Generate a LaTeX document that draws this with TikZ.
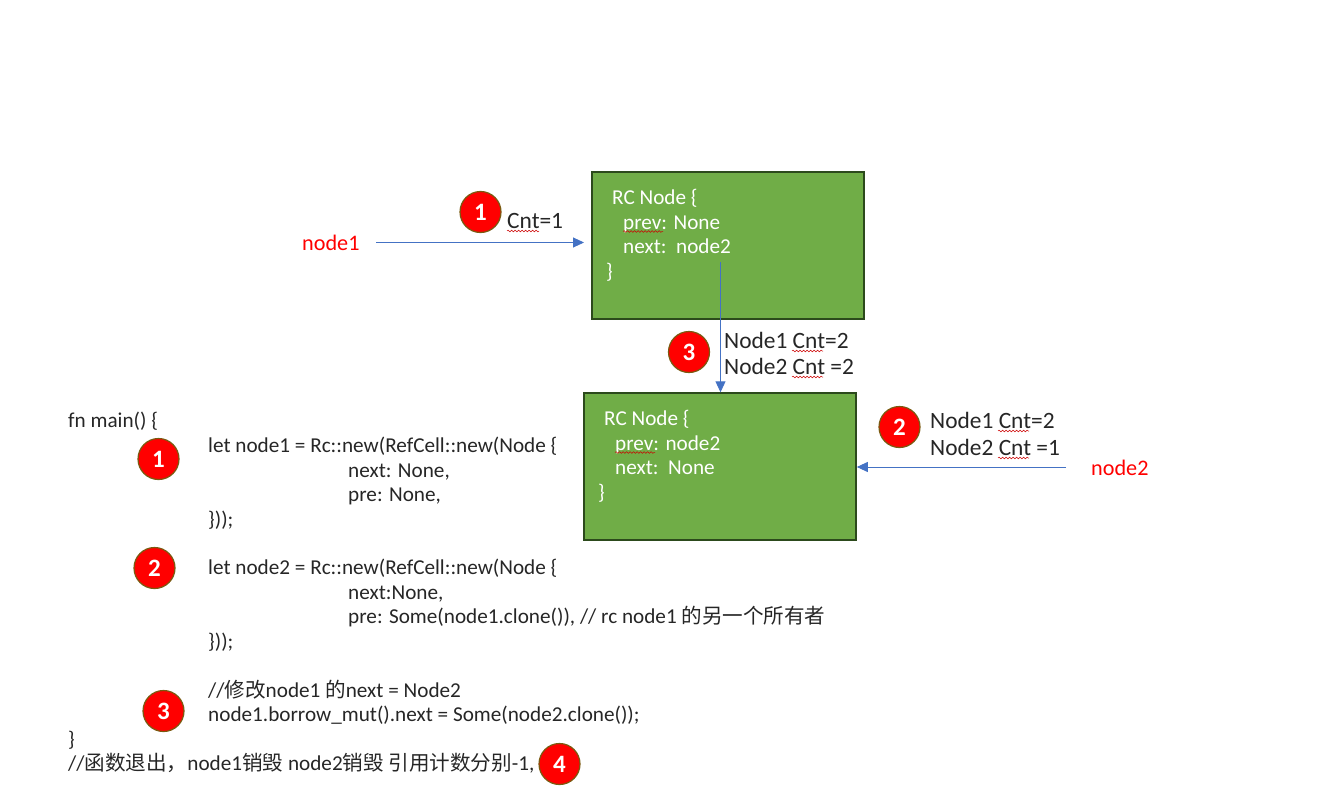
\documentclass[tikz,border=0pt]{standalone}
\usepackage{fontspec}
\setmainfont{Carlito}
\newfontfamily\cjk{Noto Sans CJK SC}[Scale=0.97]
\usetikzlibrary{arrows.meta,decorations.pathmorphing}
\definecolor{boxfill}{HTML}{70AD47}
\definecolor{boxline}{HTML}{2C4A1C}
\definecolor{arrowblue}{HTML}{4472C4}
\definecolor{badgeline}{HTML}{7A5A10}
\tikzset{
  x=1pt,y=-1pt,
  box/.style={draw=boxline,line width=1.5pt,fill=boxfill,inner sep=0pt,anchor=north west},
  boxtext/.style={text=white,anchor=base west,inner sep=0pt,font=\fontsize{21.2}{24}\selectfont},
  label/.style={text=black!85,anchor=base west,inner sep=0pt,font=\fontsize{23.4}{26}\selectfont},
  code/.style={text=black!85,anchor=base west,inner sep=0pt,font=\fontsize{21.2}{24}\selectfont},
  redname/.style={text=red,anchor=base west,inner sep=0pt,font=\fontsize{22.2}{25}\selectfont},
  badge/.style={circle,draw=badgeline,line width=1.2pt,fill=red,minimum size=41pt,inner sep=0pt,text=white,font=\fontsize{25}{28}\bfseries\selectfont},
  conn/.style={draw=arrowblue,line width=0.9pt,-{Triangle[length=11pt,width=10pt]}},
  squig/.style={draw=red!80!black,line width=0.5pt,decorate,decoration={snake,amplitude=0.8pt,segment length=3.5pt}},
}
\begin{document}
\begin{tikzpicture}
\useasboundingbox (0,0) rectangle (1330,789);
% boxes
\node[box,minimum width=272pt,minimum height=147pt] (box1) at (591.3,171.3) {};
\node[box,minimum width=272pt,minimum height=147pt] (box2) at (583.3,392.3) {};
% box text
\node[boxtext] (b1a) at (612,204) {RC Node \{};
\node[boxtext] (b1b) at (623,229) {prev: None};
\node[boxtext] (b1c) at (623,253) {next:\ \ node2};
\node[boxtext] (b1d) at (606,278) {\}};
\node[boxtext] (b2a) at (604,425) {RC Node \{};
\node[boxtext] (b2b) at (615,450) {prev: node2};
\node[boxtext] (b2c) at (615,474) {next:\ \ None};
\node[boxtext] (b2d) at (598,499) {\}};
% names
\node[redname] (n1) at (302,250) {node1};
\node[redname] (n2) at (1091,475) {node2};
\coordinate (n1out) at (376,242.5);
\coordinate (n1in) at (584,242.5);
\coordinate (n2out) at (1066,467);
\coordinate (n3out) at (720.5,262);
\draw[conn] (n1out) -- (n1in);
\draw[conn] (n2out) -- (box2.east |- n2out);
\draw[conn] (n3out) -- (n3out |- box2.north);
% labels
\node[label] (l1) at (507,228) {Cnt=1};
\node[label] (l2) at (724,348) {Node1 Cnt=2};
\node[label] (l3) at (724,374) {Node2 Cnt =2};
\node[label] (l4) at (930,428) {Node1 Cnt=2};
\node[label] (l5) at (930,455) {Node2 Cnt =1};
% spell-check underlines
\draw[squig] (507,231) -- (539,231);
\draw[squig] (623,231.5) -- (663,231.5);
\draw[squig] (615,452.5) -- (655,452.5);
\draw[squig] (792,351) -- (823,351);
\draw[squig] (792,377) -- (823,377);
\draw[squig] (998,431) -- (1029,431);
\draw[squig] (998,458) -- (1029,458);
% badges
\node[badge] (bA) at (480.5,212) {1};
\node[badge] (bB) at (689,352) {3};
\node[badge] (bC) at (899.5,427) {2};
\node[badge] (bD) at (158.5,459) {1};
\node[badge] (bE) at (154.5,568) {2};
\node[badge] (bF) at (163.5,711) {3};
\node[badge] (bG) at (559.5,764) {4};
% code
\node[code] (c1) at (68,427) {fn main() \{};
\node[code] (c2) at (208,452) {let node1 = Rc::new(RefCell::new(Node \{};
\node[code] (c3) at (348,477) {next: None,};
\node[code] (c4) at (348,501) {pre: None,};
\node[code] (c5) at (208,526) {\}));};
\node[code] (c6) at (208,574) {let node2 = Rc::new(RefCell::new(Node \{};
\node[code] (c7) at (348,599) {next:None,};
\node[code] (c8) at (348,623) {pre: Some(node1.clone()), // rc node1 {\cjk 的另一个所有者}};
\node[code] (c9) at (208,648) {\}));};
\node[code] (c10) at (208,697) {//{\cjk 修改}node1 {\cjk 的}next = Node2};
\node[code] (c11) at (208,721) {node1.borrow\_mut().next = Some(node2.clone());};
\node[code] (c12) at (68,746) {\}};
\node[code] (c13) at (68,770) {//{\cjk 函数退出，}node1{\cjk 销毁} node2{\cjk 销毁 引用计数分别}-1,};
\end{tikzpicture}
\end{document}
